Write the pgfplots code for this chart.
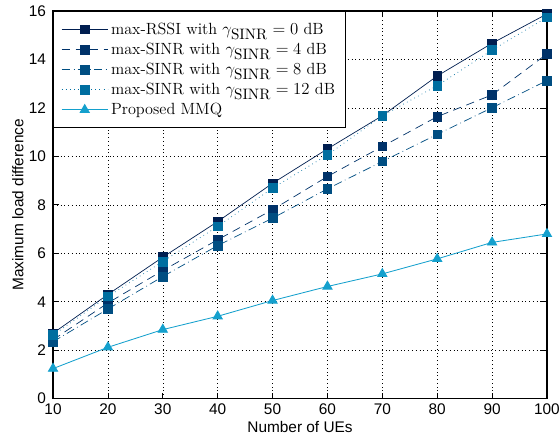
\documentclass[border=0pt]{standalone}
\usepackage{pgfplots}
\pgfplotsset{compat=1.18}
\usepackage{fontspec}
\newfontfamily\arial{Liberation Sans}
\definecolor{c1}{RGB}{0,30,80}
\definecolor{c2}{RGB}{0,50,105}
\definecolor{c3}{RGB}{0,78,130}
\definecolor{c4}{RGB}{0,110,160}
\definecolor{c5}{RGB}{20,160,205}
\newcommand{\gs}{$\gamma_{\mbox{\fontsize{10.8}{11}\selectfont SINR}}$}
\begin{document}
\begin{tikzpicture}
\begin{axis}[
  name=ax,
  scale only axis,
  width=353pt, height=277pt,
  xmin=10, xmax=100, ymin=0, ymax=16,
  xtick={10,20,...,100}, ytick={0,2,...,16},
  grid=major,
  major grid style={black, line width=0.4pt, dash pattern=on 0.5pt off 2.2pt},
  axis line style={black, line width=0.8pt},
  tick style={black, line width=0.5pt},
  tick align=inside,
  major tick length=4pt,
  /pgf/number format/assume math mode=true,
  tick label style={font=\arial\fontsize{11}{13}\selectfont},
  yticklabel style={xshift=-1.5pt},
  label style={font=\arial\fontsize{11}{13}\selectfont},
  xlabel={Number of UEs},
  ylabel={Maximum load difference},
  xlabel style={yshift=2pt},
  ylabel style={yshift=-3pt},
  legend style={at={(0,1)}, anchor=north west, draw=black, line width=0.7pt, font=\fontsize{11.6}{13}\selectfont, row sep=0.7pt, inner xsep=5.5pt, inner ysep=6pt, legend cell align=left, fill=white},
  legend image code/.code={\draw[#1] (0pt,0pt) -- (33pt,0pt); \draw[#1, solid] plot coordinates {(16.5pt,0pt)};},
]
\addplot[c1, line width=0.5pt, mark=square*, mark size=3.1pt, mark options={solid, fill=c1}] coordinates {
(10,2.7) (20,4.3) (30,5.84) (40,7.31) (50,8.89) (60,10.31) (70,11.68) (80,13.32) (90,14.67) (100,15.88)};
\addlegendentry{max-RSSI with \gs${}=0$ dB}
\addplot[c2, line width=0.5pt, dash pattern=on 6pt off 4pt, mark=square*, mark size=3.1pt, mark options={solid, fill=c2}] coordinates {
(10,2.43) (20,3.95) (30,5.29) (40,6.56) (50,7.8) (60,9.17) (70,10.41) (80,11.64) (90,12.54) (100,14.23)};
\addlegendentry{max-SINR with \gs${}=4$ dB}
\addplot[c3, line width=0.5pt, dash pattern=on 6pt off 2.5pt on 0.5pt off 2.5pt, mark=square*, mark size=3.1pt, mark options={solid, fill=c3}] coordinates {
(10,2.35) (20,3.7) (30,5.04) (40,6.32) (50,7.45) (60,8.66) (70,9.79) (80,10.91) (90,12.01) (100,13.13)};
\addlegendentry{max-SINR with \gs${}=8$ dB}
\addplot[c4, line width=0.5pt, dash pattern=on 0.5pt off 2.5pt, mark=square*, mark size=3.1pt, mark options={solid, fill=c4}] coordinates {
(10,2.62) (20,4.22) (30,5.66) (40,7.11) (50,8.69) (60,10.06) (70,11.68) (80,12.92) (90,14.39) (100,15.74)};
\addlegendentry{max-SINR with \gs${}=12$ dB}
\addplot[c5, line width=0.6pt, mark=triangle*, mark size=3.8pt, mark options={solid, fill=c5}] coordinates {
(10,1.24) (20,2.12) (30,2.85) (40,3.4) (50,4.05) (60,4.63) (70,5.15) (80,5.77) (90,6.45) (100,6.8)};
\addlegendentry{Proposed MMQ}
\end{axis}
\pgfresetboundingbox
\path ([shift={(-37.9pt,-30pt)}]ax.south west) rectangle ([shift={(8.6pt,7.9pt)}]ax.north east);
\end{tikzpicture}
\end{document}
